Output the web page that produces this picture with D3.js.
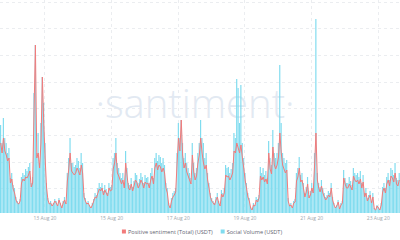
<!DOCTYPE html>
<html>
<head>
    <meta charset="UTF-8">
    <title>Santiment</title>
    <script src="https://cdn.jsdelivr.net/npm/d3@7"></script>
    <style>
        body { margin: 0; background: #fff; }
        svg { display: block; font-family: "Open Sans", sans-serif; }
    </style>
</head>
<body>
<svg width="400" height="240"></svg>
<script>

    // hourly data, starting 11 Aug 2020 16:00
    var startTime = new Date(Date.UTC(2020, 7, 11, 16))

    var socialVolume = [
        88, 70, 95, 75, 70, 60, 65, 35, 40, 28, 25, 16, 12, 10, 14, 36, 40, 38, 44, 42, 46, 50, 30, 36,
        120, 168, 60, 80, 50, 90, 136, 110, 70, 30, 15, 10, 12, 8, 10, 14, 12, 8, 15, 10, 6, 12, 16, 10,
        40, 55, 75, 50, 50, 46, 48, 55, 52, 45, 60, 50, 20, 15, 10, 12, 8, 6, 10, 14, 20, 18, 25, 30,
        26, 30, 22, 28, 24, 20, 30, 26, 28, 55, 60, 75, 50, 45, 40, 35, 40, 30, 62, 45, 30, 28, 35, 26,
        32, 40, 38, 30, 34, 40, 36, 30, 38, 35, 36, 30, 40, 45, 35, 55, 60, 52, 58, 56, 50, 55, 48, 30,
        25, 10, 6, 15, 20, 22, 25, 60, 90, 75, 93, 70, 55, 60, 50, 45, 40, 35, 70, 50, 40, 45, 60, 70,
        93, 75, 70, 55, 60, 40, 30, 20, 15, 12, 10, 16, 20, 12, 8, 23, 20, 25, 48, 45, 46, 40, 44, 50,
        80, 75, 134, 125, 90, 128, 70, 55, 40, 30, 20, 15, 6, 4, 10, 8, 16, 14, 18, 46, 40, 45, 38, 42,
        35, 72, 55, 48, 83, 60, 55, 60, 70, 148, 90, 60, 55, 50, 53, 15, 8, 10, 6, 12, 14, 40, 45, 56,
        38, 40, 30, 20, 26, 36, 18, 22, 30, 25, 60, 194, 40, 30, 26, 33, 25, 20, 16, 18, 22, 20, 30, 16,
        10, 6, 8, 13, 5, 10, 12, 43, 35, 30, 30, 36, 32, 28, 45, 40, 38, 40, 36, 42, 30, 38, 20, 25,
        15, 18, 22, 12, 20, 5, 3, 8, 6, 4, 10, 26, 30, 25, 36, 40, 33, 45, 43, 38, 50, 35, 33, 40
    ]

    var positiveSentiment = [
        70, 60, 75, 62, 58, 52, 55, 30, 34, 24, 20, 13, 10, 9, 12, 30, 34, 32, 36, 35, 38, 42, 26, 30,
        100, 168, 55, 60, 45, 70, 136, 90, 55, 26, 13, 9, 10, 7, 9, 12, 10, 7, 13, 9, 5, 10, 13, 9,
        32, 44, 60, 42, 40, 38, 40, 45, 42, 38, 48, 40, 16, 12, 9, 10, 7, 5, 8, 12, 16, 15, 20, 24,
        22, 25, 18, 23, 20, 17, 25, 22, 23, 44, 50, 60, 40, 37, 33, 29, 33, 25, 50, 37, 25, 23, 29, 22,
        27, 33, 31, 25, 28, 33, 30, 25, 31, 29, 30, 25, 33, 37, 29, 45, 50, 43, 48, 46, 41, 45, 40, 25,
        20, 8, 5, 12, 16, 18, 21, 50, 75, 62, 93, 58, 45, 50, 41, 37, 33, 29, 58, 41, 33, 37, 50, 58,
        75, 60, 50, 44, 48, 33, 25, 16, 12, 10, 8, 13, 16, 10, 7, 19, 16, 20, 38, 36, 37, 33, 36, 40,
        62, 60, 70, 65, 60, 68, 55, 45, 33, 25, 16, 12, 5, 3, 8, 7, 13, 11, 15, 37, 33, 36, 31, 34,
        29, 60, 44, 39, 66, 48, 44, 48, 56, 80, 60, 48, 44, 40, 43, 12, 7, 8, 5, 10, 11, 32, 36, 45,
        31, 33, 25, 16, 21, 29, 15, 18, 25, 20, 48, 80, 33, 25, 21, 27, 20, 16, 13, 15, 18, 16, 25, 13,
        8, 5, 7, 11, 4, 8, 10, 35, 29, 25, 25, 29, 26, 23, 37, 33, 31, 33, 29, 34, 25, 31, 16, 20,
        12, 15, 18, 10, 16, 4, 3, 7, 5, 3, 8, 21, 25, 20, 29, 33, 27, 37, 35, 31, 40, 29, 27, 33
    ]

    var tickDays = ["2020-08-13", "2020-08-15", "2020-08-17", "2020-08-19", "2020-08-21", "2020-08-23"]
    var seriesNames = ["Positive sentiment (Total) (USDT)", "Social Volume (USDT)"]
    var seriesColors = ["#f27b7b", "#80dcef"]

    var hour = 3600 * 1000
    var data = socialVolume.map(function (v, i) {
        return { date: new Date(startTime.getTime() + i * hour), volume: v, sentiment: positiveSentiment[i] }
    })

    var width = 400, baseline = 213

    var svg = d3.select("svg")

    var x = d3.scaleTime()
        .domain([startTime, new Date(startTime.getTime() + data.length * hour)])
        .range([0, width])

    var yVol = d3.scaleLinear().domain([0, 213]).range([baseline, 0])
    var ySent = d3.scaleLinear().domain([0, 213]).range([baseline, 0])
    var yGrid = d3.scaleLinear().domain([0, 8]).range([215, 1.7])

    var ticks = tickDays.map(function (d) { return new Date(d + "T00:00:00Z") })

    // grid
    var grid = svg.append("g")
        .attr("stroke", "#ebedf0")
        .attr("stroke-dasharray", "3,3")
        .attr("stroke-width", 1)
    grid.selectAll(".h")
        .data(d3.range(1, 9))
        .enter().append("line")
        .attr("x1", 0).attr("x2", width)
        .attr("y1", function (d) { return Math.round(yGrid(d)) + 0.5 })
        .attr("y2", function (d) { return Math.round(yGrid(d)) + 0.5 })
    grid.selectAll(".v")
        .data(ticks)
        .enter().append("line")
        .attr("y1", 0).attr("y2", baseline)
        .attr("x1", function (d) { return Math.round(x(d)) + 0.5 })
        .attr("x2", function (d) { return Math.round(x(d)) + 0.5 })

    // watermark
    svg.append("text")
        .attr("x", 195)
        .attr("y", 118)
        .attr("text-anchor", "middle")
        .attr("fill", "#e2e9f2")
        .attr("font-size", 40)
        .attr("font-weight", 300)
        .text("\u00b7santiment\u00b7")

    var bw = width / data.length

    svg.append("g")
        .attr("fill", seriesColors[1])
        .selectAll("rect")
        .data(data)
        .enter().append("rect")
        .attr("x", function (d) { return x(d.date) })
        .attr("width", bw * 0.85)
        .attr("y", function (d) { return yVol(d.volume) })
        .attr("height", function (d) { return baseline - yVol(d.volume) })

    var line = d3.line()
        .x(function (d) { return x(d.date) + bw / 2 })
        .y(function (d) { return ySent(d.sentiment) })

    svg.append("path")
        .datum(data)
        .attr("fill", "none")
        .attr("stroke", seriesColors[0])
        .attr("stroke-width", 1)
        .attr("stroke-linejoin", "round")
        .attr("d", line)

    // x axis labels
    svg.append("g")
        .attr("transform", "translate(0," + (baseline + 1) + ")")
        .call(d3.axisBottom(x).tickValues(ticks).tickSize(0).tickPadding(2)
            .tickFormat(d3.utcFormat("%d Aug %y")))
        .call(function (g) { g.select(".domain").remove() })
        .selectAll("text")
        .attr("fill", "#a0a6ad")
        .attr("font-size", 5)
        .attr("font-family", "Open Sans, sans-serif")

    // legend, laid out from measured text widths
    var legend = svg.append("g").attr("font-size", 5.6).attr("fill", "#5f6672")
    var items = seriesNames.map(function (name, i) {
        var g = legend.append("g")
        g.append("rect")
            .attr("y", 229.5)
            .attr("width", 4).attr("height", 4)
            .attr("fill", seriesColors[i])
        var t = g.append("text")
            .attr("x", 6).attr("y", 233.6)
            .text(name)
        return { g: g, w: 6 + t.node().getComputedTextLength() }
    })
    var gap = 8
    var total = d3.sum(items, function (d) { return d.w }) + gap
    var cx = 202 - total / 2
    items.forEach(function (it) {
        it.g.attr("transform", "translate(" + cx + ",0)")
        cx += it.w + gap
    })

</script>
</body>
</html>
